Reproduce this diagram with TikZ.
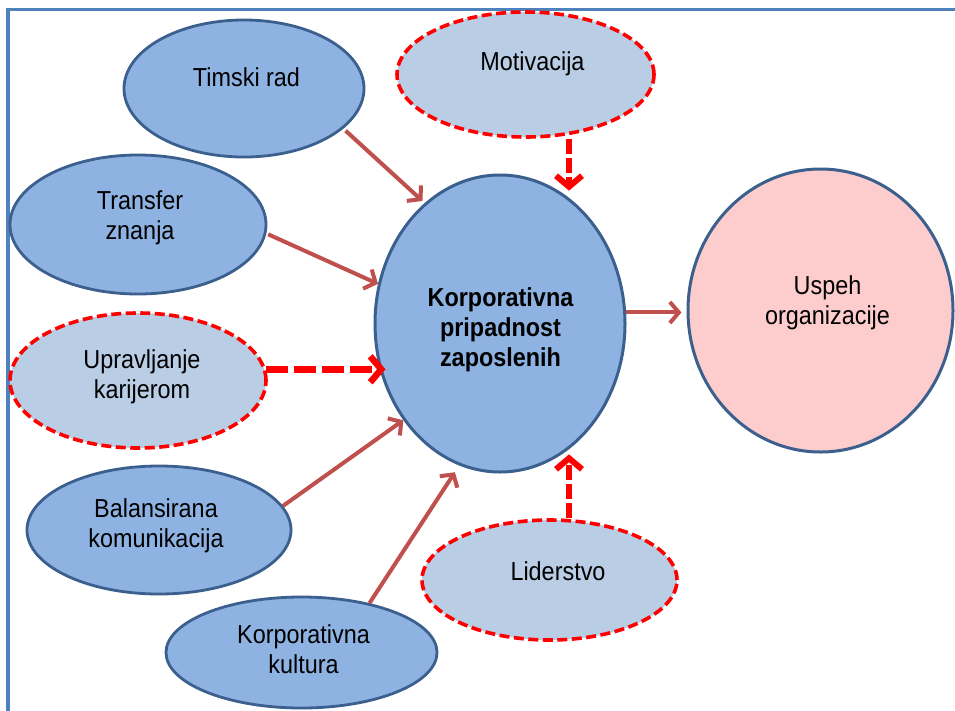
\documentclass[tikz,border=0pt]{standalone}
\usepackage{fontspec}
\setmainfont[FakeStretch=0.9]{Liberation Sans}
\usetikzlibrary{arrows.meta,calc,shapes.geometric}
\definecolor{fillblue}{RGB}{142,179,226}
\definecolor{edgeblue}{RGB}{60,96,142}
\definecolor{lightfill}{RGB}{185,205,229}
\definecolor{pinkfill}{RGB}{253,204,204}
\definecolor{arrowred}{RGB}{192,80,77}
\definecolor{framecol}{RGB}{79,129,189}
\newcommand\twol[2]{\begin{tabular}[t]{@{}c@{}}#1\\#2\end{tabular}}
\newcommand\threel[3]{\begin{tabular}[t]{@{}c@{}}#1\\#2\\#3\end{tabular}}
\begin{document}
\begin{tikzpicture}[x=1pt,y=-1pt,
  solidell/.style={ellipse, draw=edgeblue, line width=2.8pt, fill=fillblue, inner sep=0pt},
  dashell/.style={ellipse, draw=red, line width=3.6pt, dash pattern=on 10pt off 4.5pt, fill=lightfill, inner sep=0pt},
  txt/.style={font=\fontsize{26}{30}\selectfont, inner sep=0pt, anchor=base},
  boldtxt/.style={txt, font=\fontsize{26}{30}\selectfont\bfseries},
  brownarrow/.style={draw=arrowred, line width=4pt, -{Straight Barb[length=9pt,width=21pt]}},
  redarrow/.style={draw=red, line width=6pt, dash pattern=on 15pt off 4pt, -{Straight Barb[length=11pt,width=26pt]}}
]
\useasboundingbox (0,0) rectangle (955,710);
\fill[white] (0,0) rectangle (955,710);
\draw[framecol, line width=3.5pt] (8,715) -- (8,9.5) -- (960,9.5);

% ellipses
\node[solidell, minimum width=240pt, minimum height=137pt] (tim) at (244,88.5) {};
\node[solidell, minimum width=256pt, minimum height=139pt] (trans) at (138,224.5) {};
\node[dashell, minimum width=256pt, minimum height=135pt] (uprav) at (138,380.5) {};
\node[solidell, minimum width=264pt, minimum height=128pt] (bal) at (159,530) {};
\node[solidell, minimum width=271pt, minimum height=111pt] (kult) at (301.5,652.5) {};
\node[dashell, minimum width=255pt, minimum height=120pt] (lid) at (549.5,580) {};
\node[dashell, minimum width=257pt, minimum height=125pt] (mot) at (525.5,74.5) {};
\node[solidell, line width=3pt, minimum width=250pt, minimum height=297pt] (kor) at (500,323.5) {};
\node[solidell, line width=3pt, fill=pinkfill, minimum width=265pt, minimum height=283pt] (usp) at (820.5,310.5) {};

% connectors
\draw[brownarrow, shorten <=3pt, shorten >=3pt] (tim.-22) -- (kor.122);
\draw[brownarrow, shorten <=2pt] (trans.-4) -- (kor.162);
\draw[redarrow, line width=6.5pt, dash pattern=on 22pt off 6pt] (uprav.5) -- ($(uprav.5 -| kor.west)+(12,0)$);
\draw[brownarrow] (bal.11) -- (kor.225);
\draw[brownarrow, shorten >=8pt] (kult.36) -- (kor.254);
\coordinate (motout) at ([xshift=43.5pt]mot.south);
\draw[redarrow, shorten >=7.5pt] (motout) -- (motout |- kor.61);
\coordinate (lidout) at ([xshift=19.5pt]lid.north);
\draw[redarrow, shorten >=5.5pt] (lidout) -- (lidout |- kor.-61);
\draw[brownarrow, shorten >=5pt] (kor.5) -- (kor.5 -| usp.west);

% texts
\node[txt] (timt) at (246.5,86) {Timski rad};
\node[txt] (transt) at (140,209) {\twol{Transfer}{znanja}};
\node[txt] (upravt) at (142,368.5) {\twol{Upravljanje}{karijerom}};
\node[txt] (balt) at (156,517) {\twol{Balansirana}{komunikacija}};
\node[txt] (kultt) at (303.5,643) {\twol{Korporativna}{kultura}};
\node[txt] (lidt) at (558,580) {Liderstvo};
\node[txt] (mott) at (532.5,70) {Motivacija};
\node[txt] (uspt) at (827.5,294) {\twol{Uspeh}{organizacije}};
\node[boldtxt] (kort) at (500.5,306) {\threel{Korporativna}{pripadnost}{zaposlenih}};
\end{tikzpicture}
\end{document}
